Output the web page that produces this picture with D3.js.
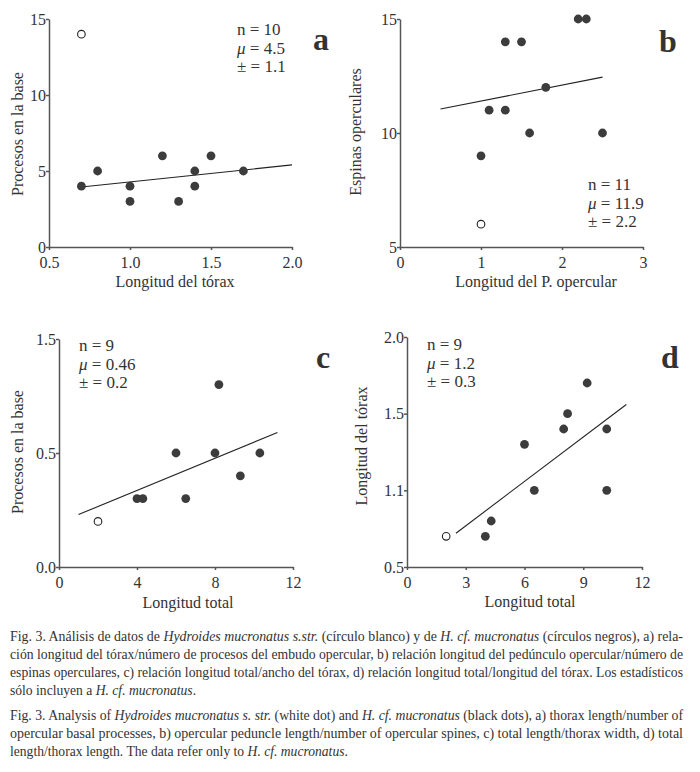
<!DOCTYPE html>
<html lang="es">
<head>
<meta charset="UTF-8">
<title>Fig. 3 Hydroides mucronatus</title>
<script src="https://d3js.org/d3.v7.min.js"></script>
<style>
  html, body { margin: 0; padding: 0; background: #fff; }
  body { width: 700px; height: 772px; overflow: hidden; }
  svg { display: block; }
  text { font-family: "Liberation Serif", "Times New Roman", serif; fill: #333; }
  .tick text { font-size: 16px; fill: #333; }
  .axis path, .axis line { stroke: #555; stroke-width: 1.5; }
  .caption { font-size: 13.6px; fill: #333; }
</style>
</head>
<body>
<svg id="chart" width="700" height="772"></svg>
<script>
// ---- panel a: thorax length vs processes
const aOpen = [[0.7, 14]];
const aFilled = [[0.7, 4], [0.8, 5], [1.0, 4], [1.0, 3], [1.2, 6], [1.3, 3], [1.4, 5], [1.4, 4], [1.5, 6], [1.7, 5]];
const aFit = [[0.7, 3.95], [2.0, 5.4]];
const aXTicks = [0.5, 1.0, 1.5, 2.0];
const aXLabels = ["0.5", "1.0", "1.5", "2.0"];
const aYTicks = [0, 5, 10, 15];
const aYLabels = ["0", "5", "10", "15"];
const aStats = ["10", "4.5", "1.1"];

// ---- panel b: opercular peduncle vs spines
const bOpen = [[1.0, 6]];
const bFilled = [[1.0, 9], [1.1, 11], [1.3, 11], [1.3, 14], [1.5, 14], [1.6, 10], [1.8, 12], [2.2, 15], [2.3, 15], [2.5, 10]];
const bFit = [[0.5, 11.05], [2.5, 12.45]];
const bXTicks = [0, 1, 2, 3];
const bXLabels = ["0", "1", "2", "3"];
const bYTicks = [5, 10, 15];
const bYLabels = ["5", "10", "15"];
const bStats = ["11", "11.9", "2.2"];

// ---- panel c: total length vs processes (tick labels as printed)
const cOpen = [[2, 0.2]];
const cFilled = [[4, 0.3], [4.3, 0.3], [6, 0.5], [6.5, 0.3], [8, 0.5], [8.2, 0.8], [9.3, 0.4], [10.3, 0.5]];
const cFit = [[1.0, 0.23], [11.2, 0.59]];
const cXTicks = [0, 4, 8, 12];
const cXLabels = ["0", "4", "8", "12"];
const cYTicks = [0, 0.5, 1.0];
const cYLabels = ["0.0", "0.5", "1.5"];
const cStats = ["9", "0.46", "0.2"];

// ---- panel d: total length vs thorax length (tick labels as printed)
const dOpen = [[2, 0.7]];
const dFilled = [[4, 0.7], [4.3, 0.8], [6, 1.3], [6.5, 1.0], [8, 1.4], [8.2, 1.5], [9.2, 1.7], [10.2, 1.4], [10.2, 1.0]];
const dFit = [[2.5, 0.72], [11.2, 1.56]];
const dXTicks = [0, 3, 6, 9, 12];
const dXLabels = ["0", "3", "6", "9", "12"];
const dYTicks = [0.5, 1.0, 1.5, 2.0];
const dYLabels = ["0.5", "1.1", "1.5", "2.0"];
const dStats = ["9", "1.2", "0.3"];

// ---- captions
const captionEs = [
  "Fig. 3. Análisis de datos de <i>Hydroides mucronatus s.str.</i> (círculo blanco) y de <i>H. cf. mucronatus</i> (círculos negros), a) rela-",
  "ción longitud del tórax/número de procesos del embudo opercular, b) relación longitud del pedúnculo opercular/número de",
  "espinas operculares, c) relación longitud total/ancho del tórax, d) relación longitud total/longitud del tórax. Los estadísticos",
  "sólo incluyen a <i>H. cf. mucronatus</i>."
];
const captionEn = [
  "Fig. 3. Analysis of <i>Hydroides mucronatus s. str.</i> (white dot) and <i>H. cf. mucronatus</i> (black dots), a) thorax length/number of",
  "opercular basal processes, b) opercular peduncle length/number of opercular spines, c) total length/thorax width, d) total",
  "length/thorax length. The data refer only to <i>H. cf. mucronatus</i>."
];

const svg = d3.select("#chart");

function drawPanel(p) {
  const x = d3.scaleLinear().domain(p.xDomain).range(p.xRange);
  const y = d3.scaleLinear().domain(p.yDomain).range(p.yRange);
  const g = svg.append("g");

  g.append("g")
    .attr("class", "axis")
    .attr("transform", `translate(0,${p.yRange[0]})`)
    .call(d3.axisBottom(x).tickValues(p.xTicks).tickFormat((d, i) => p.xLabels[i])
      .tickSizeInner(3).tickSizeOuter(0).tickPadding(7));

  g.append("g")
    .attr("class", "axis")
    .attr("transform", `translate(${p.xRange[0]},0)`)
    .call(d3.axisLeft(y).tickValues(p.yTicks).tickFormat((d, i) => p.yLabels[i])
      .tickSizeInner(3).tickSizeOuter(0).tickPadding(0));

  // regression line
  g.append("line")
    .attr("x1", x(p.fit[0][0])).attr("y1", y(p.fit[0][1]))
    .attr("x2", x(p.fit[1][0])).attr("y2", y(p.fit[1][1]))
    .attr("stroke", "#222").attr("stroke-width", 1.1);

  g.selectAll(".filled").data(p.filled).join("circle")
    .attr("cx", d => x(d[0])).attr("cy", d => y(d[1]))
    .attr("r", 4.4).attr("fill", "#3c3c3c");

  g.selectAll(".open").data(p.open).join("circle")
    .attr("cx", d => x(d[0])).attr("cy", d => y(d[1]))
    .attr("r", 3.8).attr("fill", "#fff").attr("stroke", "#222").attr("stroke-width", 1.1);

  // axis titles
  g.append("text")
    .attr("x", p.xTitlePos[0]).attr("y", p.xTitlePos[1])
    .attr("text-anchor", "middle").style("font-size", "16px")
    .text(p.xTitle);
  g.append("text")
    .attr("transform", `translate(${p.yTitlePos[0]},${p.yTitlePos[1]}) rotate(-90)`)
    .attr("text-anchor", "middle").style("font-size", "16px")
    .text(p.yTitle);

  // statistics
  const prefixes = [["n", false], ["\u03bc", true], ["\u00b1", false]];
  p.stats.forEach((v, i) => {
    const t = g.append("text").style("font-size", "17px")
      .attr("x", p.statPos[0]).attr("y", p.statPos[1] + i * 18.5);
    t.append("tspan").style("font-style", prefixes[i][1] ? "italic" : "normal").text(prefixes[i][0]);
    t.append("tspan").text(" = " + v);
  });

  // panel letter
  g.append("text")
    .attr("x", p.letterPos[0]).attr("y", p.letterPos[1])
    .style("font-size", "32px").style("font-weight", "bold").attr("fill", "#222")
    .text(p.letter);
}

drawPanel({
  xDomain: [0.5, 2.0], xRange: [49, 292], yDomain: [0, 15], yRange: [247, 19],
  xTicks: aXTicks, xLabels: aXLabels, yTicks: aYTicks, yLabels: aYLabels,
  open: aOpen, filled: aFilled, fit: aFit, stats: aStats,
  xTitle: "Longitud del tórax", xTitlePos: [175, 287],
  yTitle: "Procesos en la base", yTitlePos: [23, 134],
  statPos: [237, 35], letter: "a", letterPos: [313, 50]
});

drawPanel({
  xDomain: [0, 3], xRange: [400, 643], yDomain: [5, 15], yRange: [247, 19],
  xTicks: bXTicks, xLabels: bXLabels, yTicks: bYTicks, yLabels: bYLabels,
  open: bOpen, filled: bFilled, fit: bFit, stats: bStats,
  xTitle: "Longitud del P. opercular", xTitlePos: [536, 287],
  yTitle: "Espinas operculares", yTitlePos: [361, 132],
  statPos: [588, 190], letter: "b", letterPos: [659, 52]
});

drawPanel({
  xDomain: [0, 12], xRange: [59, 293], yDomain: [0, 1.0], yRange: [567, 339],
  xTicks: cXTicks, xLabels: cXLabels, yTicks: cYTicks, yLabels: cYLabels,
  open: cOpen, filled: cFilled, fit: cFit, stats: cStats,
  xTitle: "Longitud total", xTitlePos: [188, 608],
  yTitle: "Procesos en la base", yTitlePos: [23, 452],
  statPos: [79, 351], letter: "c", letterPos: [316, 368]
});

drawPanel({
  xDomain: [0, 12], xRange: [407, 642], yDomain: [0.5, 2.0], yRange: [567, 337],
  xTicks: dXTicks, xLabels: dXLabels, yTicks: dYTicks, yLabels: dYLabels,
  open: dOpen, filled: dFilled, fit: dFit, stats: dStats,
  xTitle: "Longitud total", xTitlePos: [530, 607],
  yTitle: "Longitud del tórax", yTitlePos: [367, 446],
  statPos: [427, 350], letter: "d", letterPos: [661, 368]
});

// captions: each full line stretched to the column width, last line left as is
function caption(lines, baseline) {
  lines.forEach((line, i) => {
    const t = svg.append("text").attr("class", "caption")
      .attr("x", 10).attr("y", baseline + i * 18);
    line.split(/(<i>.*?<\/i>)/).filter(s => s.length).forEach(seg => {
      const it = seg.startsWith("<i>");
      t.append("tspan").style("font-style", it ? "italic" : "normal")
        .text(it ? seg.slice(3, -4) : seg);
    });
    if (i < lines.length - 1) {
      t.attr("textLength", 673).attr("lengthAdjust", "spacingAndGlyphs");
    }
  });
}
caption(captionEs, 641);
caption(captionEn, 720);
</script>
</body>
</html>
